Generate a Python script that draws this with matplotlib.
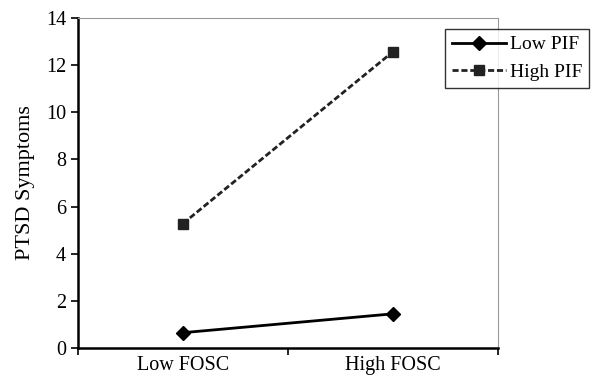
import matplotlib
matplotlib.use("Agg")
import matplotlib.pyplot as plt

categories = ["Low FOSC", "High FOSC"]
low_pif = [0.65, 1.45]
high_pif = [5.28, 12.57]
y_ticks = [0, 2, 4, 6, 8, 10, 12, 14]

plt.rcParams['font.family'] = ['Liberation Serif', 'DejaVu Serif']

fig = plt.figure(figsize=(5.98, 3.82), dpi=100)
ax = fig.add_axes([78/598, 1-348/382, (498-78)/598, (348-18)/382])

xpos = [0.5, 1.5]
ax.plot(xpos, low_pif, color='black', lw=2, marker='D', ms=7, label='Low PIF')
ax.plot(xpos, high_pif, color='#222222', lw=2, ls=(0, (2.2, 1.0)), marker='s', ms=7.5, label='High PIF')

ax.set_xlim(0, 2)
ax.set_ylim(0, 14)
ax.set_yticks(y_ticks)
ax.set_yticklabels([str(v) for v in y_ticks], fontsize=14.5)
ax.set_xticks([0, 1, 2])
ax.set_xticklabels([])
ax.set_xticks(xpos, minor=True)
ax.set_xticklabels(categories, minor=True, fontsize=14.5)
ax.tick_params(axis='x', which='minor', length=0, pad=6)
ax.tick_params(axis='both', which='major', direction='out', length=5, width=1.2, color='black')
ax.set_ylabel('PTSD Symptoms', fontsize=16, labelpad=8)

for s in ['left', 'bottom']:
    ax.spines[s].set_linewidth(1.8)
    ax.spines[s].set_color('black')
for s in ['top', 'right']:
    ax.spines[s].set_linewidth(0.8)
    ax.spines[s].set_color('#999999')

leg = fig.legend(loc='upper left', bbox_to_anchor=(445/598, 1-29/382), frameon=True,
                 fancybox=False, edgecolor='black', fontsize=14, handlelength=2.8,
                 handletextpad=0.2, borderpad=0.35, labelspacing=0.5, borderaxespad=0)
leg.get_frame().set_linewidth(1.0)

fig.savefig('out.png', dpi=100)
